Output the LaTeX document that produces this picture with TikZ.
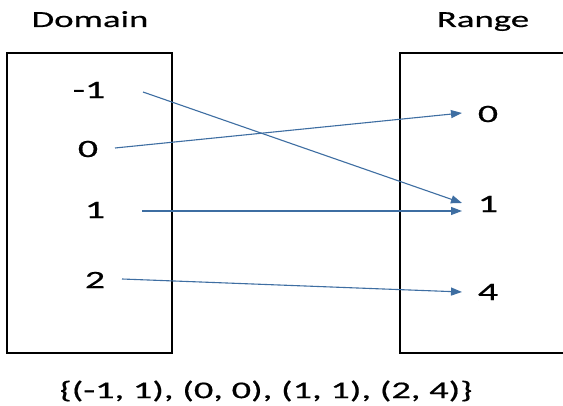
\documentclass[tikz,border=0pt]{standalone}
\usepackage{fontspec}
\usetikzlibrary{arrows.meta}
\newfontfamily\cf[FakeStretch=1.6,FakeBold=0.6]{Carlito}
\definecolor{arrowblue}{RGB}{62,110,162}
\tikzset{
  box/.style={draw=black, line width=2.2pt},
  title/.style={font=\cf\fontsize{23}{23}\selectfont, inner sep=0pt, anchor=base},
  val/.style={font=\cf\fontsize{25}{25}\selectfont, inner sep=0pt},
  setlbl/.style={font=\cf\fontsize{24}{24}\selectfont, inner sep=0pt},
  maparrow/.style={draw=arrowblue, line width=1.1pt, -{Triangle[length=11pt,width=8pt]}}
}
\begin{document}
\begin{tikzpicture}[x=1pt,y=-1pt]
\useasboundingbox (0,0) rectangle (563,406);
\fill[white] (0,0) rectangle (563,406);
\draw[box] (7,53) rectangle (172,353);
\draw[box] (400,53) rectangle (566,353);
\node[title] (dom) at (90,27) {Domain};
\node[title] (ran) at (483,27) {Range};
\node[val] (dm1) at (89,90) {-1};
\node[val] (d0) at (88,149) {0};
\node[val] (d1) at (95,210) {1};
\node[val] (d2) at (95,280) {2};
\node[val] (r0) at (488,114) {0};
\node[val] (r1) at (488,204) {1};
\node[val] (r4) at (488,292) {4};
\node[setlbl] (set) at (266,391) {\{(-1, 1), (0, 0), (1, 1), (2, 4)\}};
\coordinate (sm1) at (143,92);
\coordinate (s0) at (115,148);
\coordinate (s1) at (142,211);
\coordinate (s2) at (122,279);
\coordinate (e0) at (462,113);
\coordinate (e1a) at (462,203);
\coordinate (e1b) at (462,211);
\coordinate (e4) at (462,292);
\draw[maparrow] (sm1) -- (e1a);
\draw[maparrow] (s0) -- (e0);
\draw[maparrow] (s1) -- (e1b);
\draw[maparrow] (s2) -- (e4);
\end{tikzpicture}
\end{document}
